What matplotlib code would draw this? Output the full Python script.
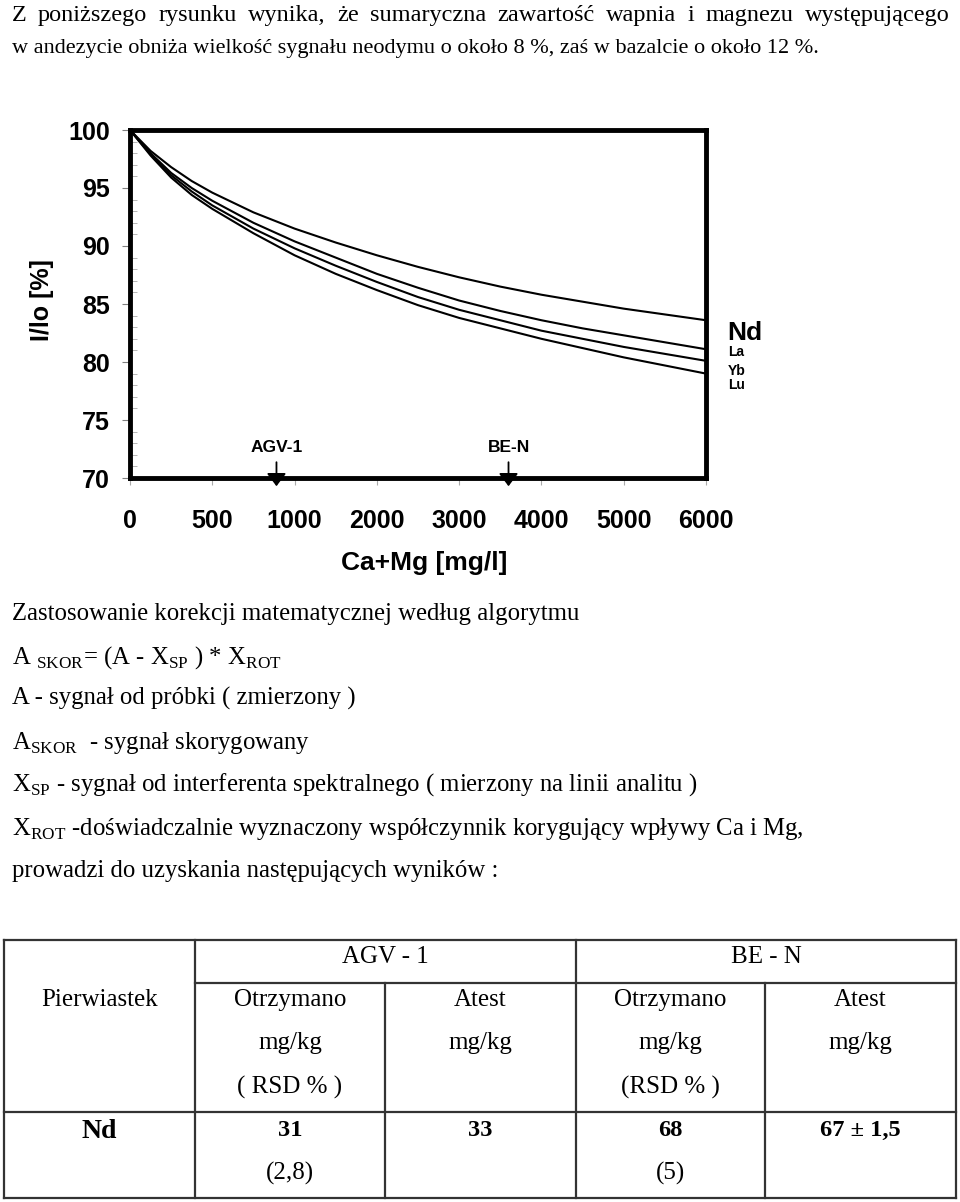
import numpy as np
import matplotlib.pyplot as plt
from matplotlib.ticker import MultipleLocator

plt.rcParams['mathtext.fontset'] = 'custom'
plt.rcParams['mathtext.rm'] = 'Liberation Serif'

SANS = 'Liberation Sans'
SERIF = 'Liberation Serif'

# chart data (x is category position of the tick labels)
x_labels = ['0', '500', '1000', '2000', '3000', '4000', '5000', '6000']
x_pos = [0, 0.25, 0.5, 0.75, 1, 1.5, 2, 2.5, 3, 3.5, 4, 4.5, 5, 5.5, 6, 6.5, 7]
nd = [100, 98.2, 96.8, 95.6, 94.6, 92.9, 91.5, 90.3, 89.2, 88.2, 87.3, 86.5, 85.8, 85.2, 84.6, 84.1, 83.6]
la = [100, 98.0, 96.3, 95.0, 93.9, 92.0, 90.4, 89.0, 87.6, 86.4, 85.3, 84.4, 83.6, 82.9, 82.3, 81.7, 81.1]
yb = [100, 97.9, 96.1, 94.7, 93.5, 91.5, 89.8, 88.3, 86.9, 85.6, 84.5, 83.6, 82.7, 82.0, 81.3, 80.7, 80.1]
lu = [100, 97.8, 95.9, 94.4, 93.2, 91.1, 89.2, 87.6, 86.2, 84.9, 83.8, 82.9, 82.0, 81.2, 80.4, 79.7, 79.0]
samples = ['AGV-1', 'BE-N']
sample_pos = [1.78, 4.6]

# table data
col_groups = ['AGV - 1', 'BE - N']
sub_heads = ['Otrzymano\nmg/kg\n( RSD % )', 'Atest\nmg/kg', 'Otrzymano\nmg/kg\n(RSD % )', 'Atest\nmg/kg']
element = 'Nd'
values = ['31', '33', '68', '67 \u00b1 1,5']
rsd = ['(2,8)', '', '(5)', '']

fig = plt.figure(figsize=(9.6, 12.02), dpi=100)

# page overlay in pixel coordinates
bg = fig.add_axes([0, 0, 1, 1])
bg.set_xlim(0, 960)
bg.set_ylim(1202, 0)
bg.axis('off')

def para(y, s, size=17.8, **kw):
    return bg.text(12, y, s, family=SERIF, fontsize=size, va='baseline', ha='left', **kw)

# first line is justified to the right margin
renderer = fig.canvas.get_renderer()
words = 'Z poniższego rysunku wynika, że sumaryczna zawartość wapnia i magnezu występującego'.split(' ')
wtexts = [bg.text(0, 21, w, family=SERIF, fontsize=17.5, va='baseline', ha='left') for w in words]
widths = [t.get_window_extent(renderer).width for t in wtexts]
gap = (950 - 12 - sum(widths)) / (len(words) - 1)
xcur = 12
for t, w in zip(wtexts, widths):
    t.set_x(xcur)
    xcur += w + gap
para(53, 'w andezycie obniża wielkość sygnału neodymu o około 8 %, zaś w bazalcie o około 12 %.', size=16)

para(620, 'Zastosowanie korekcji matematycznej według algorytmu')
para(664, r'A $_\mathrm{SKOR}$= (A - X$_\mathrm{SP}$ ) * X$_\mathrm{ROT}$')
para(705, 'A - sygnał od próbki ( zmierzony )')
para(749, r'A$_\mathrm{SKOR}$  - sygnał skorygowany')
para(791, r'X$_\mathrm{SP}$ - sygnał od interferenta spektralnego ( mierzony na linii analitu )')
para(835, r'X$_\mathrm{ROT}$ -doświadczalnie wyznaczony współczynnik korygujący wpływy Ca i Mg,')
para(877, 'prowadzi do uzyskania następujących wyników :')

# chart
ax = fig.add_axes([130 / 960, 1 - 478 / 1202, 576 / 960, 348 / 1202])
for s in [nd, la, yb, lu]:
    ax.plot(x_pos, s, color='black', lw=1.5)
ax.set_xlim(0, 7)
ax.set_ylim(70, 100)
ax.set_xticks(range(len(x_labels)))
ax.set_xticklabels(x_labels)
ax.yaxis.set_major_locator(MultipleLocator(5))
ax.yaxis.set_minor_locator(MultipleLocator(1))
ax.tick_params(axis='y', which='major', direction='out', length=6, width=0.8, color='gray', pad=8.5)
ax.tick_params(axis='y', which='minor', direction='in', length=5, width=0.6, color='#aaaaaa')
ax.tick_params(axis='x', which='major', direction='out', length=5, width=0.8, color='#aaaaaa', pad=17)
for lab in ax.get_xticklabels() + ax.get_yticklabels():
    lab.set_family(SANS)
    lab.set_fontweight('bold')
    lab.set_fontsize(18)
for sp in ax.spines.values():
    sp.set_linewidth(3.5)

for name, p in zip(samples, sample_pos):
    ax.annotate('', xy=(p, 69.05), xytext=(p, 71.6), annotation_clip=False,
                arrowprops=dict(arrowstyle='-|>,head_length=0.6,head_width=0.45',
                                mutation_scale=13, color='black', lw=1.3))
    ax.text(p, 72.6, name, ha='center', va='center', family=SANS, fontweight='bold', fontsize=12.5)

bg.text(42, 300, 'I/lo [%]', rotation=90, ha='center', va='center', family=SANS, fontweight='bold', fontsize=18)
bg.text(424, 563, 'Ca+Mg [mg/l]', ha='center', va='center', family=SANS, fontweight='bold', fontsize=19)

bg.text(727, 333, 'Nd', ha='left', va='center', family=SANS, fontweight='bold', fontsize=19)
for lbl, y in zip(['La', 'Yb', 'Lu'], [352, 371, 385]):
    bg.text(728, y, lbl, ha='left', va='center', family=SANS, fontweight='bold', fontsize=10)

# table
xs = [4, 195, 385, 576, 765, 956]
y_top, y_mid, y_row, y_bot = 940, 983, 1112, 1198
lk = dict(color='#333333', lw=1.6)
bg.plot([xs[0], xs[-1]], [y_top, y_top], **lk)
bg.plot([xs[0], xs[-1]], [y_row, y_row], **lk)
bg.plot([xs[0], xs[-1]], [y_bot, y_bot], **lk)
bg.plot([xs[1], xs[-1]], [y_mid, y_mid], **lk)
for i, x in enumerate(xs):
    if i in (2, 4):
        bg.plot([x, x], [y_mid, y_bot], **lk)
    else:
        bg.plot([x, x], [y_top, y_bot], **lk)

tk = dict(family=SERIF, fontsize=18, ha='center', va='center')
bg.text((xs[1] + xs[3]) / 2, 957, col_groups[0], **tk)
bg.text((xs[3] + xs[5]) / 2, 957, col_groups[1], **tk)
bg.text((xs[0] + xs[1]) / 2, 1000, 'Pierwiastek', **tk)
for i, h in enumerate(sub_heads):
    cx = (xs[i + 1] + xs[i + 2]) / 2
    for j, part in enumerate(h.split('\n')):
        bg.text(cx, 1000 + 43.5 * j, part, **tk)
bg.text((xs[0] + xs[1]) / 2, 1132, element, family=SERIF, fontsize=20, fontweight='bold', ha='center', va='center')
for i, (v, r) in enumerate(zip(values, rsd)):
    cx = (xs[i + 1] + xs[i + 2]) / 2
    bg.text(cx, 1130, v, family=SERIF, fontsize=17.6, fontweight='bold', ha='center', va='center')
    if r:
        bg.text(cx, 1173, r, **tk)

fig.savefig('out.png', dpi=100)
